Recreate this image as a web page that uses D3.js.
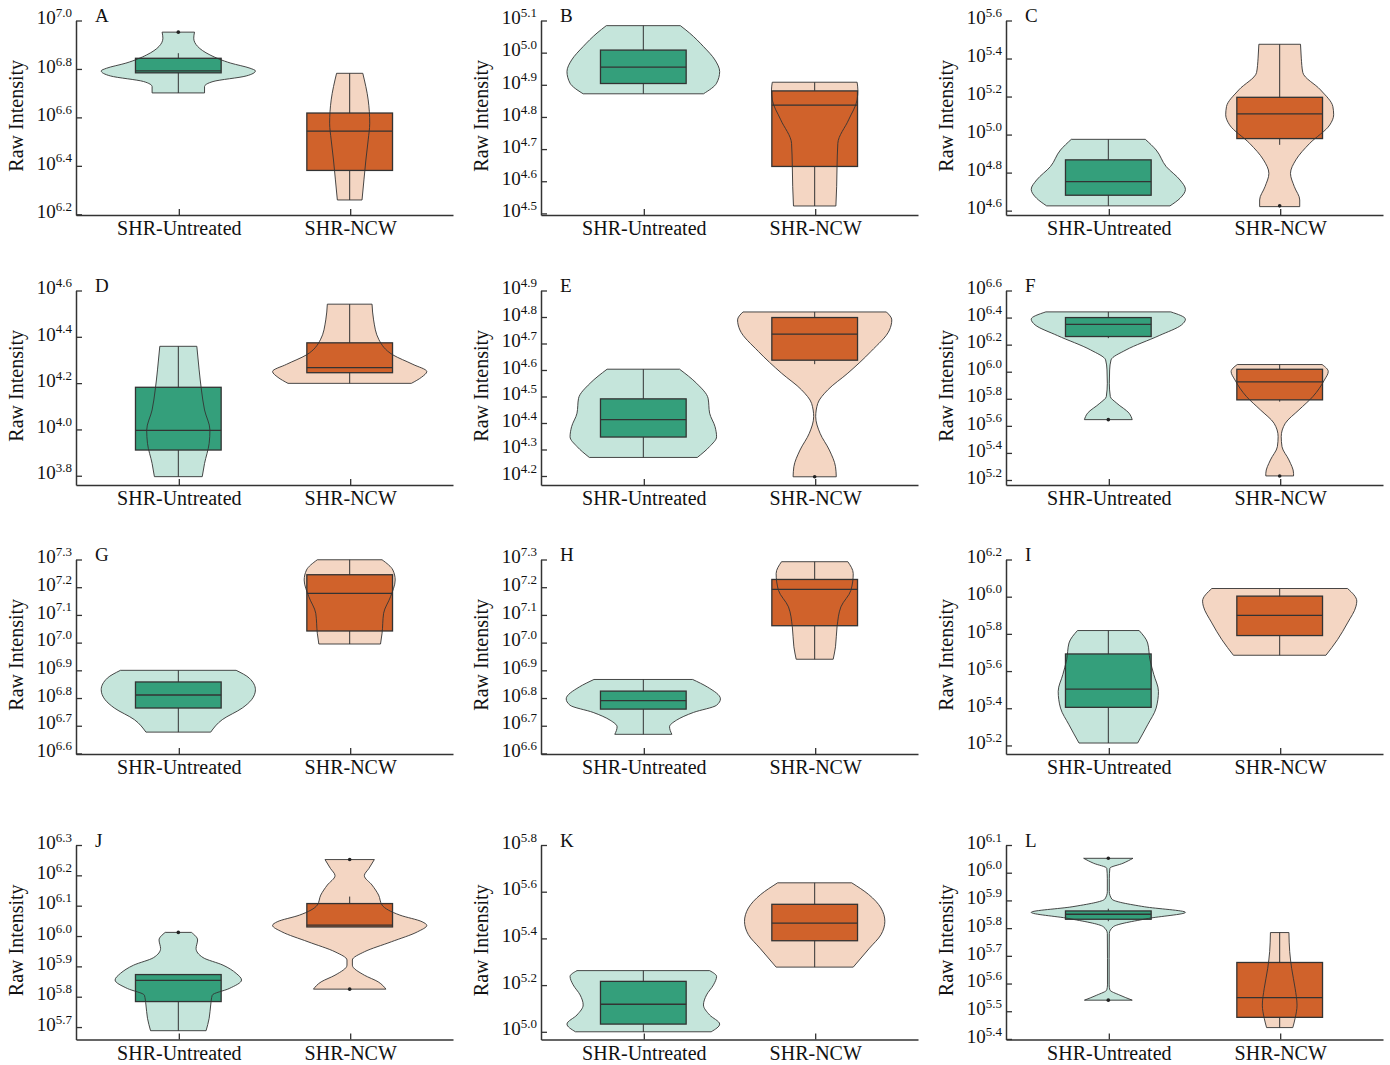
<!DOCTYPE html>
<html>
<head>
<meta charset="utf-8">
<script src="https://cdn.jsdelivr.net/npm/d3@7"></script>
<style>
  body { margin: 0; background: #fff; }
  svg { display: block; font-family: "Liberation Serif", "Times New Roman", serif; }
</style>
</head>
<body>
<script>
// ---- data (values are log10 exponents of Raw Intensity) ----
const panelLetters = ["A", "B", "C", "D", "E", "F", "G", "H", "I", "J", "K", "L"];
const groups = ["SHR-Untreated", "SHR-NCW"];

// y axis extent per panel [min, max] exponent
const axisDomains = [
  [6.197, 7.0], [4.495, 5.1], [4.577, 5.6],
  [3.76, 4.6], [4.166, 4.9], [5.163, 6.6],
  [6.598, 7.3], [6.598, 7.3], [5.154, 6.2],
  [5.659, 6.3], [4.967, 5.8], [5.398, 6.1]
];

// tick exponents per panel
const tickExponents = [
  [6.2, 6.4, 6.6, 6.8, 7.0],
  [4.5, 4.6, 4.7, 4.8, 4.9, 5.0, 5.1],
  [4.6, 4.8, 5.0, 5.2, 5.4, 5.6],
  [3.8, 4.0, 4.2, 4.4, 4.6],
  [4.2, 4.3, 4.4, 4.5, 4.6, 4.7, 4.8, 4.9],
  [5.2, 5.4, 5.6, 5.8, 6.0, 6.2, 6.4, 6.6],
  [6.6, 6.7, 6.8, 6.9, 7.0, 7.1, 7.2, 7.3],
  [6.6, 6.7, 6.8, 6.9, 7.0, 7.1, 7.2, 7.3],
  [5.2, 5.4, 5.6, 5.8, 6.0, 6.2],
  [5.7, 5.8, 5.9, 6.0, 6.1, 6.2, 6.3],
  [5.0, 5.2, 5.4, 5.6, 5.8],
  [5.4, 5.5, 5.6, 5.7, 5.8, 5.9, 6.0, 6.1]
];

// box stats per panel, per group: [whiskerLow, q1, median, q3, whiskerHigh]
const boxStats = [
  [[6.701, 6.784, 6.792, 6.844, 6.865], [6.259, 6.381, 6.543, 6.618, 6.782]],
  [[4.872, 4.904, 4.955, 5.008, 5.084], [4.523, 4.646, 4.837, 4.881, 4.908]],
  [[4.625, 4.681, 4.753, 4.867, 4.975], [4.946, 4.979, 5.109, 5.196, 5.475]],
  [[3.796, 3.911, 3.996, 4.182, 4.359], [4.199, 4.245, 4.267, 4.374, 4.541]],
  [[4.270, 4.347, 4.413, 4.491, 4.603], [4.622, 4.637, 4.735, 4.798, 4.819]],
  [[6.248, 6.260, 6.349, 6.400, 6.442], [5.779, 5.792, 5.925, 6.018, 6.053]],
  [[6.677, 6.764, 6.811, 6.858, 6.900], [6.995, 7.042, 7.178, 7.245, 7.299]],
  [[6.669, 6.760, 6.791, 6.825, 6.867], [6.940, 7.061, 7.192, 7.228, 7.292]],
  [[5.213, 5.405, 5.503, 5.692, 5.818], [5.685, 5.791, 5.900, 6.003, 6.044]],
  [[5.688, 5.784, 5.854, 5.873, 5.873], [6.030, 6.030, 6.036, 6.107, 6.130]],
  [[4.999, 5.033, 5.118, 5.216, 5.262], [5.277, 5.390, 5.465, 5.546, 5.638]],
  [[5.825, 5.832, 5.850, 5.862, 5.870], [5.441, 5.478, 5.549, 5.676, 5.784]]
];

const outliers = [
  [[6.952], []],
  [[], []],
  [[], [4.625]],
  [[], []],
  [[], [4.197]],
  [[5.646], [5.230]],
  [[], []],
  [[], []],
  [[], []],
  [[6.012], [6.252, 5.825]],
  [[], []],
  [[6.052, 5.540], []]
];

// violin outlines: [exponent, relative density width]
const violinShapes = [
  [[[6.952,0.21],[6.927,0.20],[6.893,0.25],[6.858,0.41],[6.824,0.68],[6.803,0.93],[6.792,1.0],[6.771,0.88],[6.748,0.45],[6.727,0.34],[6.701,0.34]],
   [[6.782,0.17],[6.672,0.24],[6.576,0.26],[6.507,0.24],[6.424,0.21],[6.342,0.185],[6.259,0.16]]],
  [[[5.084,0.48],[5.061,0.60],[5.019,0.78],[4.977,0.93],[4.941,0.99],[4.905,0.95],[4.872,0.78]],
   [[4.908,0.55],[4.884,0.56],[4.853,0.55],[4.791,0.44],[4.718,0.30],[4.645,0.29],[4.583,0.285],[4.523,0.275]]],
  [[[4.975,0.48],[4.919,0.62],[4.832,0.75],[4.761,0.93],[4.712,1.0],[4.665,0.93],[4.625,0.80]],
   [[5.475,0.27],[5.402,0.28],[5.326,0.30],[5.235,0.53],[5.147,0.69],[5.104,0.70],[5.051,0.65],[4.954,0.39],[4.867,0.21],[4.796,0.14],[4.726,0.19],[4.656,0.26],[4.621,0.26]]],
  [[[4.359,0.24],[4.257,0.27],[4.170,0.30],[4.084,0.34],[3.997,0.41],[3.940,0.40],[3.853,0.34],[3.796,0.31]],
   [[4.541,0.29],[4.473,0.31],[4.387,0.38],[4.322,0.56],[4.281,0.82],[4.250,1.0],[4.225,0.93],[4.199,0.80]]],
  [[[4.603,0.47],[4.550,0.69],[4.493,0.84],[4.437,0.86],[4.386,0.93],[4.348,0.95],[4.311,0.86],[4.270,0.70]],
   [[4.819,0.93],[4.789,1.0],[4.751,0.97],[4.670,0.73],[4.588,0.43],[4.525,0.17],[4.474,0.04],[4.424,0.013],[4.361,0.07],[4.298,0.19],[4.235,0.27],[4.197,0.28]]],
  [[[6.442,0.81],[6.388,1.0],[6.346,0.95],[6.267,0.66],[6.161,0.23],[6.087,0.035],[6.013,0.017],[5.915,0.013],[5.816,0.026],[5.767,0.11],[5.693,0.27],[5.646,0.31]],
   [[6.053,0.55],[6.001,0.63],[5.939,0.58],[5.816,0.43],[5.718,0.25],[5.619,0.073],[5.520,0.02],[5.446,0.03],[5.348,0.12],[5.249,0.18],[5.230,0.18]]],
  [[[6.900,0.75],[6.872,0.92],[6.830,1.0],[6.794,0.95],[6.764,0.83],[6.722,0.57],[6.677,0.42]],
   [[7.299,0.42],[7.262,0.56],[7.226,0.59],[7.166,0.53],[7.106,0.44],[7.034,0.42],[6.995,0.40]]],
  [[[6.867,0.64],[6.840,0.83],[6.797,1.0],[6.774,0.95],[6.748,0.65],[6.720,0.43],[6.696,0.34],[6.669,0.37]],
   [[7.292,0.43],[7.249,0.50],[7.189,0.47],[7.129,0.34],[7.057,0.29],[6.985,0.27],[6.940,0.24]]],
  [[[5.818,0.40],[5.751,0.51],[5.661,0.54],[5.581,0.59],[5.491,0.65],[5.401,0.62],[5.311,0.51],[5.213,0.38]],
   [[6.044,0.88],[5.976,1.0],[5.949,0.99],[5.859,0.88],[5.769,0.75],[5.685,0.60]]],
  [[[6.012,0.17],[5.987,0.25],[5.959,0.23],[5.929,0.32],[5.904,0.58],[5.877,0.75],[5.855,0.82],[5.827,0.66],[5.805,0.44],[5.773,0.42],[5.729,0.40],[5.688,0.36]],
   [[6.252,0.32],[6.223,0.25],[6.199,0.19],[6.168,0.29],[6.135,0.375],[6.102,0.42],[6.069,0.65],[6.047,0.94],[6.035,1.0],[6.014,0.88],[5.981,0.54],[5.948,0.19],[5.921,0.035],[5.904,0.035],[5.871,0.19],[5.849,0.37],[5.825,0.47]]],
  [[[5.262,0.86],[5.237,0.95],[5.201,0.91],[5.158,0.82],[5.115,0.78],[5.072,0.86],[5.033,0.99],[5.000,0.88]],
   [[5.638,0.48],[5.588,0.70],[5.530,0.86],[5.473,0.91],[5.416,0.86],[5.358,0.71],[5.277,0.50]]],
  [[[6.052,0.32],[6.034,0.19],[6.016,0.02],[5.980,0.013],[5.932,0.013],[5.905,0.045],[5.877,0.47],[5.857,1.0],[5.835,0.52],[5.805,0.065],[5.781,0.013],[5.691,0.011],[5.595,0.011],[5.577,0.02],[5.558,0.15],[5.540,0.31]],
   [[5.784,0.12],[5.715,0.13],[5.655,0.155],[5.583,0.20],[5.522,0.225],[5.474,0.20],[5.441,0.17]]]
];

const violinColors = ["#c5e5db", "#f4d6c3"];
const boxColors = ["#349f7b", "#d0622b"];

// ---- layout ----
const plotW = 377, plotH = 194.5;
const colX = [76, 541, 1006];
const rowY = [20.5, 290.5, 559.5, 845];
const ink = "#333";

const svg = d3.select("body").append("svg")
  .attr("width", 1390)
  .attr("height", 1065);

panelLetters.forEach((letter, i) => {
  const col = i % 3, row = Math.floor(i / 3);
  const g = svg.append("g")
    .attr("transform", `translate(${colX[col]},${rowY[row]})`);

  const y = d3.scaleLog()
    .domain(axisDomains[i].map(e => Math.pow(10, e)))
    .range([plotH, 0]);

  const x = d3.scalePoint()
    .domain(groups)
    .range([0, plotW])
    .padding(0.6);

  const w = d3.scaleLinear().domain([0, 1]).range([0, x.step() * 0.45]);
  const boxHalf = x.step() * 0.25;

  groups.forEach((grp, j) => {
    const cx = x(grp) - 0.5;
    const shape = violinShapes[i][j];
    const area = d3.area()
      .curve(d3.curveMonotoneY)
      .y(d => y(Math.pow(10, d[0])))
      .x0(d => cx - w(d[1]))
      .x1(d => cx + w(d[1]));

    // violin body
    g.append("path")
      .attr("d", area(shape))
      .attr("fill", violinColors[j])
      .attr("stroke", "none");

    const [lo, q1, med, q3, hi] = boxStats[i][j].map(e => y(Math.pow(10, e)));

    // box
    g.append("rect")
      .attr("x", cx - boxHalf)
      .attr("y", q3)
      .attr("width", boxHalf * 2)
      .attr("height", q1 - q3)
      .attr("fill", boxColors[j])
      .attr("stroke", ink)
      .attr("stroke-width", 1.3);

    // violin outline on top
    g.append("path")
      .attr("d", area(shape))
      .attr("fill", "none")
      .attr("stroke", ink)
      .attr("stroke-width", 0.9);

    // whiskers
    g.append("line")
      .attr("x1", cx).attr("x2", cx)
      .attr("y1", q3).attr("y2", hi)
      .attr("stroke", ink).attr("stroke-width", 1);
    g.append("line")
      .attr("x1", cx).attr("x2", cx)
      .attr("y1", q1).attr("y2", lo)
      .attr("stroke", ink).attr("stroke-width", 1);

    // median
    g.append("line")
      .attr("x1", cx - boxHalf).attr("x2", cx + boxHalf)
      .attr("y1", med).attr("y2", med)
      .attr("stroke", ink).attr("stroke-width", 1.3);

    // outliers
    g.selectAll(null)
      .data(outliers[i][j])
      .join("circle")
      .attr("cx", cx)
      .attr("cy", d => y(Math.pow(10, d)))
      .attr("r", 1.8)
      .attr("fill", "#222");
  });

  // axes
  const exps = tickExponents[i];
  const yAxis = g.append("g")
    .call(d3.axisLeft(y)
      .tickValues(exps.map(e => Math.pow(10, e)))
      .tickFormat(() => "")
      .tickSize(-6)
      .tickSizeOuter(0)
      .tickPadding(4));
  yAxis.selectAll(".tick text").each(function(d, k) {
    const t = d3.select(this)
      .attr("font-family", "Liberation Serif")
      .attr("fill", "#111");
    t.append("tspan").attr("font-size", 19).text("10");
    t.append("tspan").attr("font-size", 13).attr("dy", "-0.55em").text(exps[k].toFixed(1));
  });

  const xAxis = g.append("g")
    .attr("transform", `translate(0,${plotH})`)
    .call(d3.axisBottom(x)
      .tickSize(-6)
      .tickSizeOuter(0)
      .tickPadding(6));
  xAxis.selectAll(".tick text")
    .attr("font-family", "Liberation Serif")
    .attr("font-size", 20)
    .attr("fill", "#111");

  g.selectAll(".domain").attr("stroke", ink).attr("stroke-width", 1.5);
  g.selectAll(".tick line").attr("stroke", ink).attr("stroke-width", 1.3);

  // y label
  g.append("text")
    .attr("transform", "rotate(-90)")
    .attr("x", -plotH * 0.49)
    .attr("y", -53)
    .attr("text-anchor", "middle")
    .attr("font-size", 20)
    .attr("fill", "#111")
    .text("Raw Intensity");

  // panel letter
  g.append("text")
    .attr("x", 19)
    .attr("y", 1.5)
    .attr("font-size", 19)
    .attr("fill", "#111")
    .text(letter);
});
</script>
</body>
</html>
